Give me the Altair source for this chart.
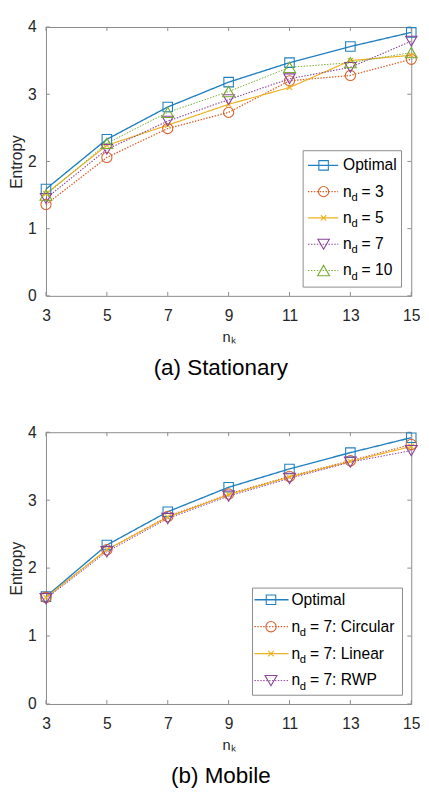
import altair as alt
import pandas as pd

# ---------------- data ----------------
nk = [3, 5, 7, 9, 11, 13, 15]

# (a) Stationary
stat_series = ["Optimal", "nd3", "nd5", "nd7", "nd10"]
stat_optimal = [1.59, 2.33, 2.81, 3.18, 3.47, 3.71, 3.92]
stat_nd3 = [1.36, 2.06, 2.49, 2.73, 3.20, 3.28, 3.52]
stat_nd5 = [1.52, 2.24, 2.54, 2.85, 3.10, 3.50, 3.58]
stat_nd7 = [1.45, 2.18, 2.60, 2.92, 3.23, 3.40, 3.79]
stat_nd10 = [1.50, 2.27, 2.73, 3.04, 3.40, 3.47, 3.62]
stat_labels_main = ["Optimal", "n", "n", "n", "n"]
stat_labels_sub = ["", "d", "d", "d", "d"]
stat_labels_rest = ["", "= 3", "= 5", "= 7", "= 10"]

# (b) Mobile
mob_series = ["Optimal", "Circular", "Linear", "RWP"]
mob_optimal = [1.58, 2.34, 2.83, 3.19, 3.46, 3.70, 3.92]
mob_circular = [1.57, 2.27, 2.76, 3.09, 3.35, 3.58, 3.82]
mob_linear = [1.57, 2.27, 2.75, 3.08, 3.34, 3.57, 3.79]
mob_rwp = [1.55, 2.24, 2.73, 3.06, 3.32, 3.56, 3.73]
mob_labels_main = ["Optimal", "n", "n", "n"]
mob_labels_sub = ["", "d", "d", "d"]
mob_labels_rest = ["", "= 7: Circular", "= 7: Linear", "= 7: RWP"]

x_ticks = [3, 5, 7, 9, 11, 13, 15]
y_ticks = [0, 1, 2, 3, 4]

# ---------------- styles ----------------
BLUE, ORANGE, YELLOW, PURPLE, GREEN = "#1f80c0", "#d9622b", "#EDB120", "#8a3f99", "#77AC30"
XSHAPE = "M-0.5,-0.5L0.5,0.5M-0.5,0.5L0.5,-0.5"
SOLID, DOT = [1, 0], [1.5, 1.5]
WIDTHS_SOLID, WIDTHS_DOT = 1.4, 1.0
GRAY = "#8a8a8a"
TXT = "#262626"
FONT = "Liberation Sans"

W = 375


def panel(names, series_vals, colors, shapes, sizes, dashes, main, sub, rest,
          H, box, seg, rows, caption, cap_offset):
    recs = []
    for name, vals in zip(names, series_vals):
        for xv, yv in zip(nk, vals):
            recs.append({"nk": xv, "Entropy": yv, "series": name})
    df = pd.DataFrame(recs)

    xscale = alt.Scale(domain=[3, 15], nice=False, zero=False)
    yscale = alt.Scale(domain=[0, 4], nice=False)
    xaxis = alt.Axis(values=x_ticks, title="nₖ", grid=False, ticks=False, domain=False,
                     labelPadding=12, titlePadding=7, labelFontSize=16, titleFontSize=15,
                     labelColor=TXT, titleColor=TXT, titleFontWeight="normal", labelFlush=False)
    yaxis = alt.Axis(values=y_ticks, title="Entropy", grid=False, ticks=False, domain=False,
                     labelPadding=10, titlePadding=3, labelFontSize=16, titleFontSize=16,
                     labelColor=TXT, titleColor=TXT, titleFontWeight="normal")

    color = alt.Color("series:N", scale=alt.Scale(domain=names, range=colors), legend=None)
    dash = alt.StrokeDash("series:N", scale=alt.Scale(domain=names, range=dashes), legend=None)
    swidth = alt.StrokeWidth("series:N", scale=alt.Scale(
        domain=names, range=[WIDTHS_SOLID if d == SOLID else WIDTHS_DOT for d in dashes]), legend=None)
    shape = alt.Shape("series:N", scale=alt.Scale(domain=names, range=shapes), legend=None)
    size = alt.Size("series:N", scale=alt.Scale(domain=names, range=sizes), legend=None)

    X = alt.X("nk:Q", scale=xscale, axis=xaxis)
    Y = alt.Y("Entropy:Q", scale=yscale, axis=yaxis)

    lines = alt.Chart(df).mark_line().encode(
        x=X, y=Y, color=color, strokeDash=dash, strokeWidth=swidth)
    points = alt.Chart(df).mark_point(filled=False, strokeWidth=1.1, opacity=1).encode(
        x=X, y=Y, color=color, shape=shape, size=size)

    xt = pd.DataFrame({"nk": x_ticks})
    yt = pd.DataFrame({"Entropy": y_ticks})
    tb = alt.Chart(xt).mark_rule(color=GRAY, strokeWidth=1).encode(
        x=X, y=alt.value(H), y2=alt.value(H - 4))
    tt = alt.Chart(xt).mark_rule(color=GRAY, strokeWidth=1).encode(
        x=X, y=alt.value(0), y2=alt.value(4))
    tl = alt.Chart(yt).mark_rule(color=GRAY, strokeWidth=1).encode(
        y=Y, x=alt.value(0), x2=alt.value(4))
    tr = alt.Chart(yt).mark_rule(color=GRAY, strokeWidth=1).encode(
        y=Y, x=alt.value(W - 4), x2=alt.value(W))

    main_layer = alt.layer(tb, tt, tl, tr, lines, points)

    # legend
    ldf = pd.DataFrame({"series": names, "row": list(range(len(names))),
                        "main": main, "sub": sub, "rest": rest})
    R = alt.Y("row:O", scale=alt.Scale(type="point", range=rows, padding=0), axis=None)
    bx0, bx1, by0, by1 = box
    sx0, sx1, mx, tx = seg
    lbox = alt.Chart(pd.DataFrame({"k": [0]})).mark_rect(
        fill="white", stroke=GRAY, strokeWidth=1).encode(
        x=alt.value(bx0), x2=alt.value(bx1), y=alt.value(by0), y2=alt.value(by1))
    lseg = alt.Chart(ldf).mark_rule().encode(
        x=alt.value(sx0), x2=alt.value(sx1), y=R, color=color, strokeDash=dash, strokeWidth=swidth)
    lpt = alt.Chart(ldf).mark_point(filled=False, strokeWidth=1.1, opacity=1).encode(
        x=alt.value(mx), y=R, color=color, shape=shape, size=size)
    lmain = alt.Chart(ldf).mark_text(align="left", baseline="middle", fontSize=16, color="black").encode(
        x=alt.value(tx), y=R, text="main:N")
    lsub = alt.Chart(ldf).mark_text(align="left", baseline="middle", fontSize=11.5, color="black",
                                    dx=8.6, dy=6.5).encode(x=alt.value(tx), y=R, text="sub:N")
    lrest = alt.Chart(ldf).mark_text(align="left", baseline="middle", fontSize=16, color="black",
                                     dx=19).encode(x=alt.value(tx), y=R, text="rest:N")
    legend_layer = alt.layer(lbox, lseg, lpt, lmain, lsub, lrest)

    return alt.layer(main_layer, legend_layer).resolve_scale(y="independent").properties(
        width=W, height=H,
        title=alt.TitleParams(caption, orient="bottom", fontSize=23, fontWeight="normal",
                              color="black", offset=cap_offset, anchor="middle", dx=-8))


top = panel(stat_series, [stat_optimal, stat_nd3, stat_nd5, stat_nd7, stat_nd10],
            [BLUE, ORANGE, YELLOW, PURPLE, GREEN],
            ["square", "circle", XSHAPE, "triangle-down", "triangle-up"],
            [95, 150, 90, 130, 130],
            [SOLID, DOT, SOLID, DOT, DOT],
            stat_labels_main, stat_labels_sub, stat_labels_rest,
            276, (264, 365, 127, 267), (269, 300, 285, 305), [142, 250],
            "(a) Stationary", 13)

bottom = panel(mob_series, [mob_optimal, mob_circular, mob_linear, mob_rwp],
               [BLUE, ORANGE, YELLOW, PURPLE],
               ["square", "circle", XSHAPE, "triangle-down"],
               [95, 150, 90, 130],
               [SOLID, DOT, SOLID, DOT],
               mob_labels_main, mob_labels_sub, mob_labels_rest,
               279, (212, 366, 160, 270), (214, 249, 231, 252), [172, 255],
               "(b) Mobile", 13)

chart = alt.vconcat(top, bottom, spacing=44).resolve_scale(
    color="independent", shape="independent", strokeDash="independent",
    size="independent", strokeWidth="independent"
).properties(padding={"left": 0, "top": 0, "right": 0, "bottom": 0}).configure(
    font=FONT
).configure_view(stroke=GRAY, strokeWidth=1)

chart.save("out.html", embed_options={"renderer": "svg", "actions": False})
